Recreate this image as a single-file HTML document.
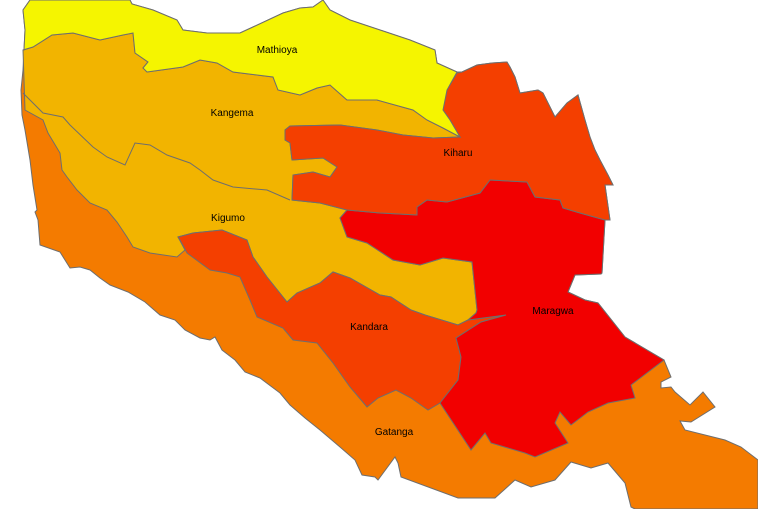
<!DOCTYPE html>
<html><head><meta charset="utf-8"><style>
html,body{margin:0;padding:0;background:#fff;}
svg{display:block;}
text{font-family:"Liberation Sans",Arial,sans-serif;font-size:10px;fill:#000;}
</style></head><body>
<svg id="map" width="758" height="509" viewBox="0 0 758 509"></svg>
<script>
const outline = "30,0 130,0 132,4 153,10 177,20 183,30 207,33 240,33 253,27 283,13 300,8 313,7 323,0 330,10 350,20 380,30 410,40 435,50 437,63 457,72 462,72 477,65 492,63 507,62 510,67 515,77 520,93 538,90 543,93 555,117 567,103 578,95 585,120 590,137 595,150 600,160 608,175 613,185 605,185 610,220 605,220 602,273 601,274 575,275 568,292 585,300 598,303 625,337 664,360 671,377 661,382 661,388 671,387 675,392 690,405 703,392 715,407 691,422 680,421 685,430 725,440 741,447 758,460 758,509 635,509 631,507 625,483 608,463 591,468 571,462 555,480 531,487 515,480 495,498 458,498 401,477 398,463 395,457 378,480 375,477 362,475 355,460 340,447 320,430 305,418 290,405 280,393 260,378 245,372 235,360 222,350 215,337 210,340 200,338 185,330 175,320 160,315 145,302 128,292 110,285 100,278 90,270 80,267 70,268 60,252 40,245 38,220 35,212 37,210 33,185 30,160 25,130 22,115 21,90 23,70 24,50 25,30 23,10";
const kangemaKigumo = "23,50 25,110 43,120 48,133 60,153 62,170 67,177 77,190 90,203 107,210 117,222 127,237 133,247 150,253 177,257 185,250 178,237 193,233 222,230 247,240 253,257 267,277 287,302 297,293 320,283 333,272 350,278 380,295 391,297 411,310 425,315 458,325 468,320 476,313 477,310 472,262 443,258 420,265 393,260 367,243 347,237 340,218 347,210 320,203 292,200 293,175 313,172 330,177 337,167 323,158 292,160 290,143 285,140 285,130 290,126 340,125 377,130 403,135 433,138 460,137 443,128 427,120 413,110 377,100 347,100 330,85 317,88 300,95 278,90 273,77 233,72 217,63 200,60 183,67 147,72 143,68 148,62 135,53 133,33 123,35 100,40 73,33 52,35 33,47";
const kandara = "178,237 193,233 222,230 247,240 253,257 267,277 287,302 297,293 320,283 333,272 350,278 380,295 391,297 411,310 425,315 458,325 468,320 506,315 481,322 456,338 461,357 458,380 440,403 428,410 411,398 396,390 378,398 367,407 350,387 333,363 317,343 293,340 283,328 257,317 250,300 240,277 227,273 210,270 187,253 180,240";
const maragwa = "347,210 380,213 417,215 417,207 427,200 447,202 480,193 490,180 527,182 535,197 560,200 563,208 580,213 605,220 602,273 601,274 575,275 568,292 585,300 598,303 625,337 664,360 631,385 635,398 608,403 588,412 571,425 560,412 555,423 568,443 535,457 525,453 491,443 485,433 471,450 440,403 458,380 461,357 456,338 481,322 506,315 468,320 476,313 477,310 472,262 443,258 420,265 393,260 367,243 347,237 340,218";
const kiharu = "460,137 450,120 443,110 447,90 457,73 462,72 477,65 492,63 507,62 510,67 515,77 520,93 538,90 543,93 555,117 567,103 578,95 585,120 590,137 595,150 600,160 608,175 613,185 605,185 610,220 605,220 580,213 563,208 560,200 535,197 527,182 490,180 480,193 447,202 427,200 417,207 417,215 380,213 347,210 320,203 292,200 293,175 313,172 330,177 337,167 323,158 292,160 290,143 285,140 285,130 290,126 340,125 377,130 403,135 433,138";
const mathioya = "30,0 130,0 132,4 153,10 177,20 183,30 207,33 240,33 253,27 283,13 300,8 313,7 323,0 330,10 350,20 380,30 410,40 435,50 437,63 457,72 447,90 443,110 450,120 460,137 443,128 427,120 413,110 377,100 347,100 330,85 317,88 300,95 278,90 273,77 233,72 217,63 200,60 183,67 147,72 143,68 148,62 135,53 133,33 123,35 100,40 73,33 52,35 33,47 23,50 24,50 25,30 23,10";
const divide = "23,93 43,113 63,117 70,125 93,147 107,157 125,165 135,143 150,145 167,155 190,163 200,170 213,180 233,187 267,190 290,200";
const svg = document.getElementById('map');
const NS = 'http://www.w3.org/2000/svg';
function poly(pts, fill, name){
  const p = document.createElementNS(NS,'polygon');
  p.setAttribute('points', pts);
  p.setAttribute('fill', fill);
  p.setAttribute('stroke', '#6e6e6e');
  p.setAttribute('stroke-width', '1');
  
  
  svg.appendChild(p);
}
poly(outline, '#f47b00', 'region-gatanga');
poly(kangemaKigumo, '#f2b400', 'region-kangema-kigumo');
poly(kandara, '#f43f00', 'region-kandara');
poly(maragwa, '#f20000', 'region-maragwa');
poly(kiharu, '#f43f00', 'region-kiharu');
poly(mathioya, '#f5f500', 'region-mathioya');
const line = document.createElementNS(NS,'polyline');
line.setAttribute('points', divide);
line.setAttribute('fill', 'none');
line.setAttribute('stroke', '#6e6e6e');


svg.appendChild(line);
const labels = ['Mathioya','Kangema','Kiharu','Kigumo','Maragwa','Kandara','Gatanga'];
const labelX = [277,232,458,228,553,369,394];
const labelY = [53,116,156,221,314,330,435];
labels.forEach((t,i)=>{
  const e = document.createElementNS(NS,'text');
  e.setAttribute('x', labelX[i]);
  e.setAttribute('y', labelY[i]);
  e.setAttribute('text-anchor', 'middle');
  
  
  e.textContent = t;
  svg.appendChild(e);
});
</script>
</body></html>
